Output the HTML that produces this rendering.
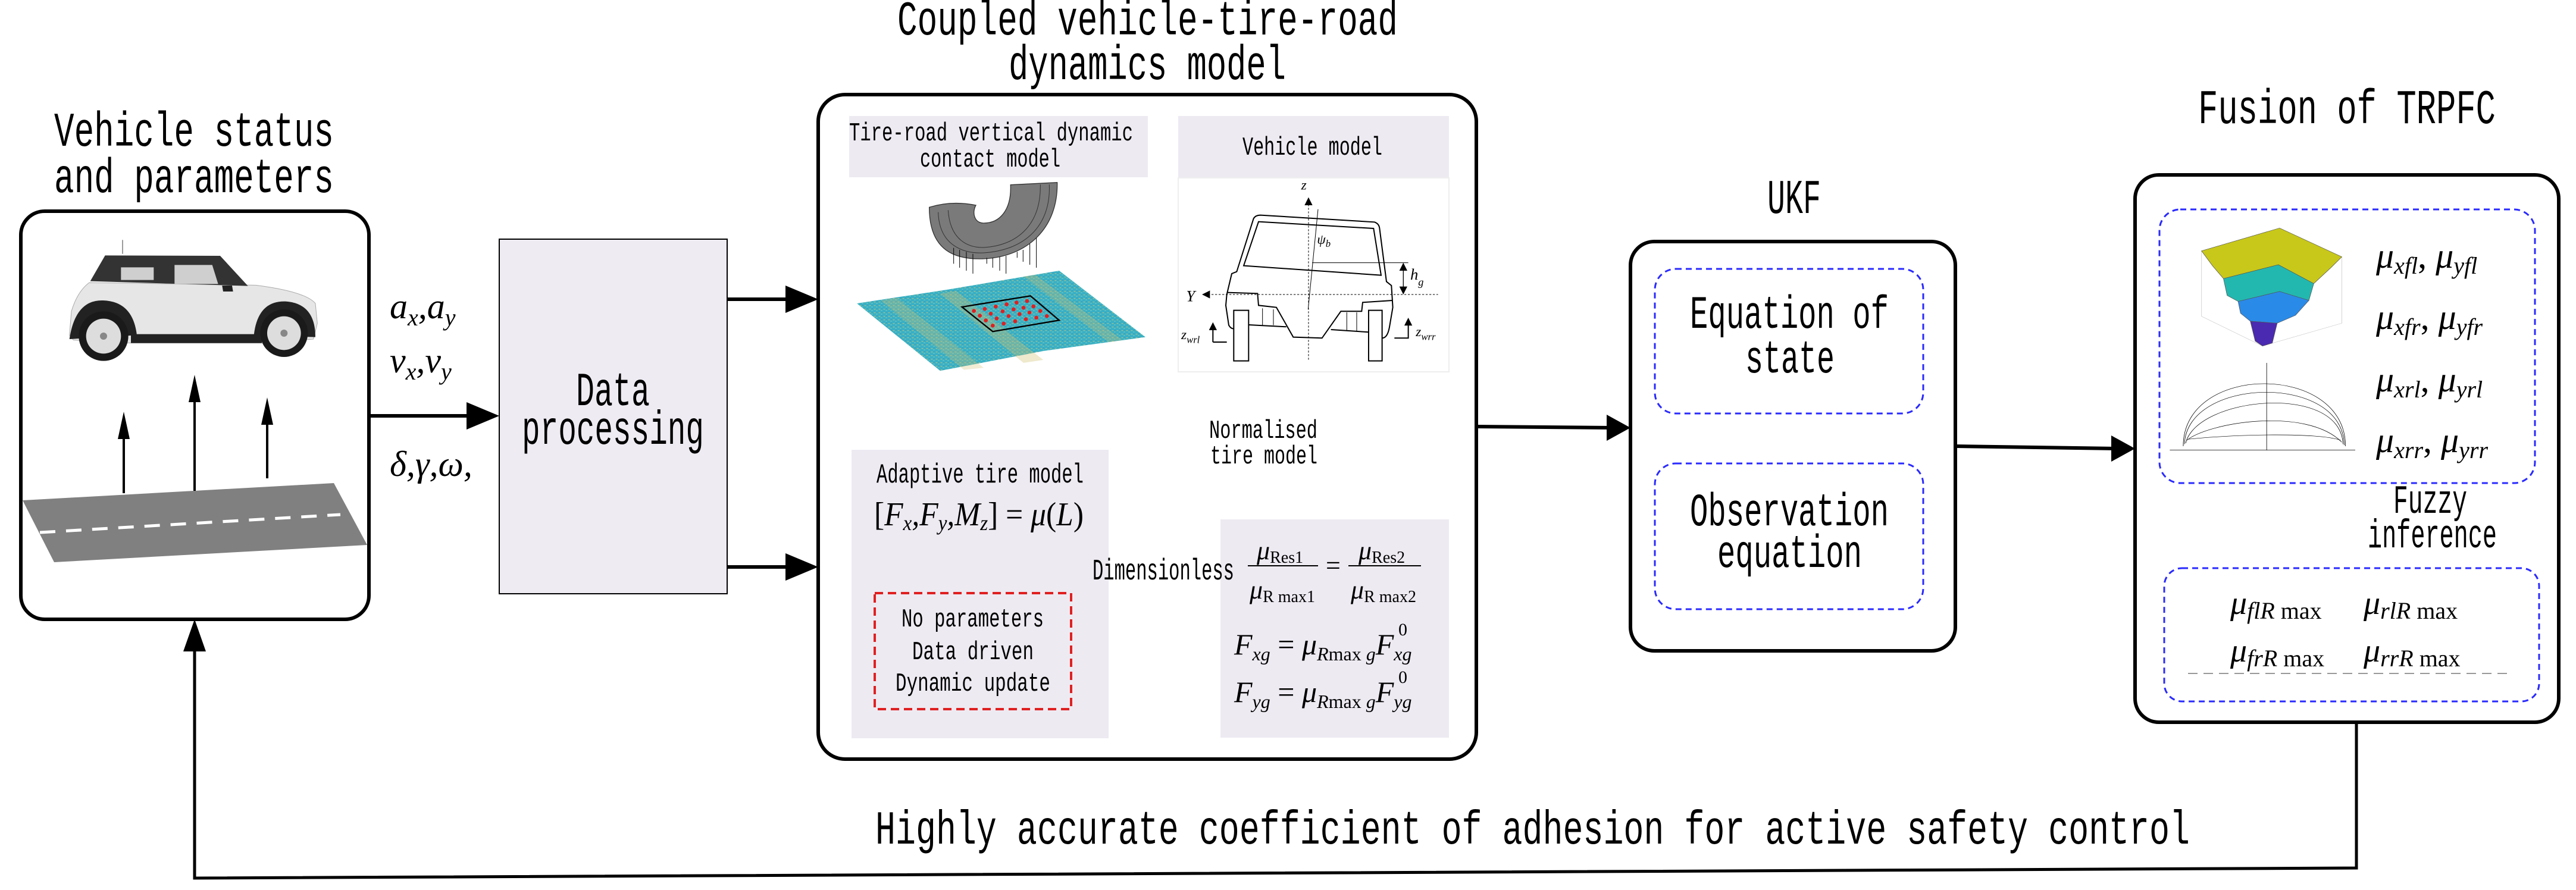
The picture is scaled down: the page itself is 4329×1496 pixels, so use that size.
<!DOCTYPE html>
<html><head><meta charset="utf-8"><style>
html,body{margin:0;padding:0;background:#fff;width:4329px;height:1496px;overflow:hidden}
svg{display:block}
.m{font-family:"Liberation Mono",monospace;fill:#000}
.s{font-family:"Liberation Serif",serif;font-style:italic;fill:#000}
.r{font-family:"Liberation Serif",serif;fill:#000}
</style></head><body>
<svg width="4329" height="1496" viewBox="0 0 4329 1496" xmlns="http://www.w3.org/2000/svg">
<defs>
<pattern id="noise" width="24" height="18" patternUnits="userSpaceOnUse">
<rect width="24" height="18" fill="#3ab0c4"/>
<rect x="2" y="3" width="8" height="4" fill="#d8c870" opacity="0.7"/>
<rect x="13" y="10" width="7" height="4" fill="#7fd0c0" opacity="0.8"/>
<rect x="15" y="1" width="5" height="3" fill="#2a8cc0" opacity="0.7"/>
</pattern>
</defs>

<!-- Titles -->
<text class="m" x="91" y="245" font-size="82" textLength="470" lengthAdjust="spacingAndGlyphs">Vehicle status</text>
<text class="m" x="91" y="323" font-size="82" textLength="470" lengthAdjust="spacingAndGlyphs">and parameters</text>
<text class="m" x="1508" y="58" font-size="82" textLength="841" lengthAdjust="spacingAndGlyphs">Coupled vehicle-tire-road</text>
<text class="m" x="1695" y="133" font-size="82" textLength="466" lengthAdjust="spacingAndGlyphs">dynamics model</text>
<text class="m" x="3694" y="207" font-size="82" textLength="500" lengthAdjust="spacingAndGlyphs">Fusion of TRPFC</text>
<text class="m" x="2970" y="358" font-size="82" textLength="90" lengthAdjust="spacingAndGlyphs">UKF</text>

<!-- Left box -->
<rect x="35" y="355" width="585" height="686" rx="40" fill="#fff" stroke="#000" stroke-width="6"/>
<g transform="translate(80,390) scale(0.3333)">
  <line x1="378" y1="40" x2="378" y2="110" stroke="#888" stroke-width="5"/>
  <path d="M110,520 L120,400 Q150,300 210,255 L1050,268 Q1300,300 1350,360 L1360,460 L1340,540 L1100,560 L420,560 L130,545 Z" fill="#e6e6e6" stroke="#aaa" stroke-width="3"/>
  <path d="M215,248 L290,118 L870,120 L1010,272 Z" fill="#333"/>
  <path d="M370,178 L535,178 L535,242 L370,242 Z" fill="#cfcfcf"/>
  <path d="M640,166 L830,166 L860,262 L640,262 Z" fill="#cfcfcf"/>
  <rect x="420" y="515" width="660" height="45" fill="#222"/>
  <path d="M110,540 Q140,340 280,345 Q430,350 450,520 Z" fill="#222"/>
  <path d="M1040,520 Q1060,345 1200,350 Q1350,360 1350,530 Z" fill="#222"/>
  <circle cx="282" cy="525" r="125" fill="#1a1a1a"/>
  <circle cx="282" cy="525" r="88" fill="#ddd"/>
  <circle cx="282" cy="525" r="18" fill="#888"/>
  <circle cx="1192" cy="510" r="120" fill="#1a1a1a"/>
  <circle cx="1192" cy="510" r="85" fill="#ddd"/>
  <circle cx="1192" cy="510" r="18" fill="#888"/>
  <path d="M880,270 L885,300 L935,300 L930,270 Z" fill="#222"/>
</g>
<polygon points="38,841 561,812 617,916 91,945" fill="#808080"/>
<line x1="67" y1="895" x2="572" y2="865" stroke="#fff" stroke-width="5" stroke-dasharray="26,18"/>
<g stroke="#000" stroke-width="4">
<line x1="208" y1="829" x2="208" y2="720"/>
<line x1="327" y1="825" x2="327" y2="660"/>
<line x1="449" y1="804" x2="449" y2="695"/>
</g>
<g fill="#000">
<polygon points="208,692 198,738 218,738"/>
<polygon points="327,630 317,676 337,676"/>
<polygon points="449,668 439,714 459,714"/>
</g>

<!-- inputs -->
<text class="s" x="655" y="535" font-size="60">a<tspan font-size="40" dy="12">x</tspan><tspan dy="-12">,a</tspan><tspan font-size="40" dy="12">y</tspan></text>
<text class="s" x="655" y="626" font-size="60">v<tspan font-size="40" dy="12">x</tspan><tspan dy="-12">,v</tspan><tspan font-size="40" dy="12">y</tspan></text>
<text class="s" x="655" y="800" font-size="60">δ,γ,ω,</text>

<!-- arrows -->
<g stroke="#000" stroke-width="6" fill="none">
<line x1="620" y1="699" x2="800" y2="699"/>
<line x1="1222" y1="503" x2="1340" y2="503"/>
<line x1="1222" y1="953" x2="1340" y2="953"/>
<line x1="1863" y1="1040" x2="2020" y2="1040"/>
<line x1="1632" y1="997" x2="1632" y2="920"/>
<line x1="2241" y1="873" x2="2241" y2="660"/>
<line x1="2481" y1="717" x2="2710" y2="719"/>
<line x1="3286" y1="750" x2="3560" y2="754"/>
<line x1="3945" y1="812" x2="3945" y2="920"/>
<polyline points="3960,1214 3960,1459 327,1476 327,1080" stroke-width="5"/>
</g>
<g fill="#000">
<polygon points="839,699 784,676 784,722"/>
<polygon points="1375,503 1320,480 1320,526"/>
<polygon points="1375,953 1320,930 1320,976"/>
<polygon points="2051,1040 2008,1019 2008,1061"/>
<polygon points="1632,888 1614,940 1650,940"/>
<polygon points="2241,623 2223,675 2259,675"/>
<polygon points="2740,719 2700,697 2700,741"/>
<polygon points="3588,754 3548,732 3548,776"/>
<polygon points="3945,955 3928,905 3962,905"/>
<polygon points="327,1041 308,1095 346,1095"/>
</g>

<!-- Data processing -->
<rect x="839" y="402" width="383" height="596" fill="#efebf2" stroke="#000" stroke-width="2"/>
<text class="m" x="968" y="681" font-size="80" textLength="124" lengthAdjust="spacingAndGlyphs">Data</text>
<text class="m" x="877" y="746" font-size="80" textLength="306" lengthAdjust="spacingAndGlyphs">processing</text>

<!-- Coupled box -->
<rect x="1375" y="159" width="1106" height="1117" rx="45" fill="#fff" stroke="#000" stroke-width="6"/>
<rect x="1427" y="195" width="502" height="103" fill="#eeeaf2"/>
<text class="m" x="1427" y="236" font-size="44" textLength="477" lengthAdjust="spacingAndGlyphs">Tire-road vertical dynamic</text>
<text class="m" x="1546" y="280" font-size="44" textLength="236" lengthAdjust="spacingAndGlyphs">contact model</text>
<g transform="translate(1420,290) scale(0.3333)">
  <polygon points="60,660 520,590 1080,495 1515,830 1000,900 480,1000" fill="url(#noise)"/>
  <polygon points="480,610 560,598 1000,945 900,960" fill="#d0c070" opacity="0.35"/>
  <polygon points="180,645 260,632 700,985 600,995" fill="#d0c070" opacity="0.3"/>
  <polygon points="900,524 960,515 1400,845 1330,855" fill="#d0c070" opacity="0.3"/>
  <polygon points="590,678 935,622 1080,745 745,802" fill="none" stroke="#000" stroke-width="7"/>
  <g fill="#e02020">
    <circle cx="650" cy="698" r="10"/><circle cx="705" cy="688" r="10"/><circle cx="760" cy="676" r="10"/><circle cx="815" cy="665" r="10"/><circle cx="865" cy="656" r="10"/><circle cx="918" cy="648" r="10"/>
    <circle cx="680" cy="722" r="10"/><circle cx="735" cy="712" r="10"/><circle cx="795" cy="700" r="10"/><circle cx="850" cy="690" r="10"/><circle cx="900" cy="682" r="10"/><circle cx="950" cy="675" r="10"/>
    <circle cx="710" cy="746" r="10"/><circle cx="765" cy="736" r="10"/><circle cx="825" cy="724" r="10"/><circle cx="880" cy="714" r="10"/><circle cx="930" cy="706" r="10"/><circle cx="985" cy="698" r="10"/>
    <circle cx="745" cy="772" r="10"/><circle cx="800" cy="762" r="10"/><circle cx="858" cy="750" r="10"/><circle cx="912" cy="740" r="10"/><circle cx="965" cy="732" r="10"/><circle cx="1018" cy="724" r="10"/>
  </g>
  <path d="M425,175 C425,400 560,440 700,435 C920,425 1075,280 1070,50 L835,62 C840,190 780,255 700,255 C650,255 640,200 660,165 Q540,140 425,175 Z" fill="#7a7a7a" stroke="#333" stroke-width="4"/>
  <path d="M470,200 C475,370 600,410 700,405 C880,395 1040,290 1030,60" fill="none" stroke="#333" stroke-width="3"/>
  <path d="M520,190 C530,340 620,380 700,378 C850,370 990,280 985,60" fill="none" stroke="#333" stroke-width="3"/>
  <g stroke="#000" stroke-width="3">
    <line x1="548" y1="380" x2="548" y2="460"/><line x1="578" y1="390" x2="578" y2="480"/><line x1="612" y1="400" x2="612" y2="495"/><line x1="645" y1="410" x2="645" y2="510"/>
    <line x1="715" y1="430" x2="715" y2="460"/><line x1="745" y1="430" x2="745" y2="480"/><line x1="780" y1="425" x2="780" y2="495"/><line x1="812" y1="420" x2="812" y2="510"/>
    <line x1="868" y1="400" x2="868" y2="430"/><line x1="898" y1="390" x2="898" y2="450"/><line x1="932" y1="360" x2="932" y2="465"/><line x1="965" y1="330" x2="965" y2="480"/>
  </g>
</g>

<rect x="1980" y="195" width="455" height="104" fill="#eeeaf2"/>
<rect x="1980" y="299" width="455" height="326" fill="#fff" stroke="#eee" stroke-width="2"/>
<text class="m" x="2088" y="260" font-size="44" textLength="235" lengthAdjust="spacingAndGlyphs">Vehicle model</text>
<g transform="translate(1960,180) scale(0.3333)" fill="none" stroke="#000" stroke-width="6">
  <path d="M305,945 L330,840 L355,830 L440,562 Q450,545 475,545 L1050,580 Q1072,588 1075,610 L1110,880 L1135,900 L1142,1010 L1125,1110 Q1115,1165 1088,1165"/>
  <path d="M390,800 L465,578 L1045,612 L1083,848 Z"/>
  <path d="M305,945 L300,1000 L315,1100 Q325,1118 340,1118"/>
  <path d="M305,935 L460,940 L465,1000 L555,1010 L640,1160 L785,1165 L880,1030 L985,1030 L990,985 L1140,975"/>
  <path d="M415,1098 L605,1108 M830,1122 L1020,1135"/>
  <rect x="340" y="1025" width="75" height="255"/>
  <rect x="1020" y="1025" width="68" height="255"/>
  <path d="M715,1020 L765,515" stroke-width="3"/>
  <path d="M735,785 L1220,785" stroke-width="3"/>
  <path d="M1195,800 L1195,930" stroke-width="4"/>
  <path d="M235,1185 L305,1185 M235,1185 L235,1110 M1150,1165 L1220,1165 L1220,1085"/>
  <path d="M485,1015 L485,1100 M540,1020 L540,1100" stroke-width="3"/>
  <path d="M910,1035 L910,1125 M960,1035 L960,1130" stroke-width="3"/>
  <line x1="717" y1="490" x2="717" y2="1280" stroke-dasharray="10,8" stroke-width="3"/>
  <line x1="210" y1="945" x2="1370" y2="945" stroke-dasharray="10,8" stroke-width="3"/>
</g>
<g transform="translate(1960,180) scale(0.3333)" fill="#000">
  <polygon points="717,455 697,495 737,495"/>
  <polygon points="180,945 220,925 220,965"/>
  <polygon points="1195,785 1175,825 1215,825"/>
  <polygon points="1195,945 1175,905 1215,905"/>
  <polygon points="235,1085 215,1125 255,1125"/>
  <polygon points="1220,1062 1200,1102 1240,1102"/>
  <text class="s" x="680" y="415" font-size="70">z</text>
  <text class="s" x="100" y="980" font-size="80">Y</text>
  <text class="s" x="760" y="690" font-size="70">ψ<tspan font-size="50" dy="15">b</tspan></text>
  <text class="s" x="1230" y="870" font-size="80">h<tspan font-size="55" dy="30">g</tspan></text>
  <text class="s" x="75" y="1170" font-size="70">z<tspan font-size="50" dy="20">wrl</tspan></text>
  <text class="s" x="1258" y="1155" font-size="70">z<tspan font-size="50" dy="20">wrr</tspan></text>
</g>

<text class="m" x="2032" y="736" font-size="44" textLength="182" lengthAdjust="spacingAndGlyphs">Normalised</text>
<text class="m" x="2034" y="779" font-size="44" textLength="180" lengthAdjust="spacingAndGlyphs">tire model</text>

<rect x="1431" y="756" width="432" height="485" fill="#eeeaf2"/>
<text class="m" x="1473" y="811" font-size="46" textLength="348" lengthAdjust="spacingAndGlyphs">Adaptive tire model</text>
<text class="s" x="1469" y="883" font-size="56" textLength="352" lengthAdjust="spacingAndGlyphs"><tspan font-style="normal">[</tspan>F<tspan font-size="36" dy="8">x</tspan><tspan dy="-8">,F</tspan><tspan font-size="36" dy="8">y</tspan><tspan dy="-8">,M</tspan><tspan font-size="36" dy="8">z</tspan><tspan dy="-8" font-style="normal">]</tspan><tspan font-style="normal"> = </tspan>μ<tspan font-style="normal">(</tspan>L<tspan font-style="normal">)</tspan></text>
<rect x="1470" y="997" width="330" height="195" fill="none" stroke="#e02020" stroke-width="4" stroke-dasharray="14,8"/>
<text class="m" x="1515" y="1053" font-size="44" textLength="239" lengthAdjust="spacingAndGlyphs">No parameters</text>
<text class="m" x="1533" y="1108" font-size="44" textLength="204" lengthAdjust="spacingAndGlyphs">Data driven</text>
<text class="m" x="1505" y="1161" font-size="44" textLength="260" lengthAdjust="spacingAndGlyphs">Dynamic update</text>

<rect x="2051" y="873" width="384" height="367" fill="#eeeaf2"/>
<text class="m" x="1836" y="974" font-size="50" textLength="238" lengthAdjust="spacingAndGlyphs">Dimensionless</text>
<text class="s" x="2112" y="940" font-size="44">μ<tspan font-style="normal" font-size="28" dy="6">Res1</tspan></text>
<text class="s" x="2100" y="1006" font-size="44">μ<tspan font-style="normal" font-size="28" dy="6">R max1</tspan></text>
<line x1="2097" y1="951" x2="2215" y2="951" stroke="#000" stroke-width="2"/>
<text class="r" x="2228" y="965" font-size="44">=</text>
<text class="s" x="2283" y="940" font-size="44">μ<tspan font-style="normal" font-size="28" dy="6">Res2</tspan></text>
<text class="s" x="2270" y="1006" font-size="44">μ<tspan font-style="normal" font-size="28" dy="6">R max2</tspan></text>
<line x1="2266" y1="951" x2="2388" y2="951" stroke="#000" stroke-width="2"/>
<text class="s" x="2074" y="1100" font-size="50">F<tspan font-size="32" dy="10">xg</tspan><tspan font-style="normal" dy="-10"> = </tspan>μ<tspan font-size="32" dy="10">R<tspan font-style="normal">max</tspan> g</tspan><tspan dy="-10">F</tspan><tspan font-size="32" dy="10">xg</tspan></text>
<text class="r" x="2350" y="1068" font-size="30">0</text>
<text class="s" x="2074" y="1180" font-size="50">F<tspan font-size="32" dy="10">yg</tspan><tspan font-style="normal" dy="-10"> = </tspan>μ<tspan font-size="32" dy="10">R<tspan font-style="normal">max</tspan> g</tspan><tspan dy="-10">F</tspan><tspan font-size="32" dy="10">yg</tspan></text>
<text class="r" x="2350" y="1148" font-size="30">0</text>

<!-- UKF -->
<rect x="2740" y="406" width="546" height="688" rx="40" fill="#fff" stroke="#000" stroke-width="6"/>
<rect x="2781" y="452" width="451" height="243" rx="35" fill="none" stroke="#2a2aff" stroke-width="3" stroke-dasharray="10,7"/>
<rect x="2781" y="779" width="451" height="245" rx="35" fill="none" stroke="#2a2aff" stroke-width="3" stroke-dasharray="10,7"/>
<text class="m" x="2840" y="551" font-size="78" textLength="334" lengthAdjust="spacingAndGlyphs">Equation of</text>
<text class="m" x="2933" y="626" font-size="78" textLength="150" lengthAdjust="spacingAndGlyphs">state</text>
<text class="m" x="2840" y="883" font-size="78" textLength="334" lengthAdjust="spacingAndGlyphs">Observation</text>
<text class="m" x="2886" y="953" font-size="78" textLength="243" lengthAdjust="spacingAndGlyphs">equation</text>

<!-- Fusion -->
<rect x="3588" y="294" width="712" height="920" rx="40" fill="#fff" stroke="#000" stroke-width="6"/>
<rect x="3629" y="352" width="631" height="460" rx="35" fill="none" stroke="#2a2aff" stroke-width="3" stroke-dasharray="10,7"/>
<rect x="3637" y="955" width="630" height="224" rx="30" fill="none" stroke="#2a2aff" stroke-width="3" stroke-dasharray="10,7"/>
<g transform="translate(3630,350) scale(0.41,0.3333)">
  <g stroke="#ccc" stroke-width="2" fill="none">
    <path d="M170,215 L170,545 L420,695 L745,580 L745,245"/>
  </g>
  <path d="M170,215 L490,100 L745,245 L700,300 L630,380 L485,285 L260,355 L215,290 Z" fill="#c8c81a" stroke="#555" stroke-width="2"/>
  <path d="M260,355 L485,285 L630,380 L610,465 L490,420 L320,470 L275,440 Z" fill="#22b8b0" stroke="#555" stroke-width="2"/>
  <path d="M320,470 L490,420 L610,465 L555,540 L480,580 L370,570 L330,530 Z" fill="#2a8ae8" stroke="#555" stroke-width="2"/>
  <path d="M370,570 L480,580 L460,680 L420,695 L390,670 Z" fill="#4a2ab0" stroke="#555" stroke-width="2"/>
  <g stroke="#000" fill="none" stroke-width="2">
    <line x1="40" y1="1220" x2="800" y2="1220"/>
    <line x1="437" y1="1220" x2="437" y2="780"/>
    <path d="M95,1200 C95,780 760,780 760,1200"/>
    <path d="M100,1190 C110,850 750,830 755,1195"/>
    <path d="M105,1185 C150,950 740,880 750,1190"/>
    <path d="M110,1170 C200,1080 600,1000 745,1180"/>
    <path d="M115,1165 C300,1140 650,1130 740,1170"/>
  </g>
</g>
<text class="s" x="3993" y="450" font-size="60">μ<tspan font-size="40" dy="10">xfl</tspan><tspan dy="-10" font-style="normal">, </tspan>μ<tspan font-size="40" dy="10">yfl</tspan></text>
<text class="s" x="3993" y="553" font-size="60">μ<tspan font-size="40" dy="10">xfr</tspan><tspan dy="-10" font-style="normal">, </tspan>μ<tspan font-size="40" dy="10">yfr</tspan></text>
<text class="s" x="3993" y="658" font-size="60">μ<tspan font-size="40" dy="10">xrl</tspan><tspan dy="-10" font-style="normal">, </tspan>μ<tspan font-size="40" dy="10">yrl</tspan></text>
<text class="s" x="3993" y="760" font-size="60">μ<tspan font-size="40" dy="10">xrr</tspan><tspan dy="-10" font-style="normal">, </tspan>μ<tspan font-size="40" dy="10">yrr</tspan></text>
<text class="m" x="4022" y="862" font-size="68" textLength="124" lengthAdjust="spacingAndGlyphs">Fuzzy</text>
<text class="m" x="3979" y="920" font-size="68" textLength="217" lengthAdjust="spacingAndGlyphs">inference</text>
<text class="s" x="3748" y="1032" font-size="56">μ<tspan font-size="40" dy="8">flR</tspan><tspan font-size="40" font-style="normal"> max</tspan></text>
<text class="s" x="3972" y="1032" font-size="56">μ<tspan font-size="40" dy="8">rlR</tspan><tspan font-size="40" font-style="normal"> max</tspan></text>
<text class="s" x="3748" y="1112" font-size="56">μ<tspan font-size="40" dy="8">frR</tspan><tspan font-size="40" font-style="normal"> max</tspan></text>
<text class="s" x="3972" y="1112" font-size="56">μ<tspan font-size="40" dy="8">rrR</tspan><tspan font-size="40" font-style="normal"> max</tspan></text>
<line x1="3677" y1="1132" x2="4217" y2="1132" stroke="#999" stroke-width="2" stroke-dasharray="16,10"/>

<!-- bottom text -->
<text class="m" x="1471" y="1418" font-size="80" textLength="2209" lengthAdjust="spacingAndGlyphs">Highly accurate coefficient of adhesion for active safety control</text>
</svg>
</body></html>
